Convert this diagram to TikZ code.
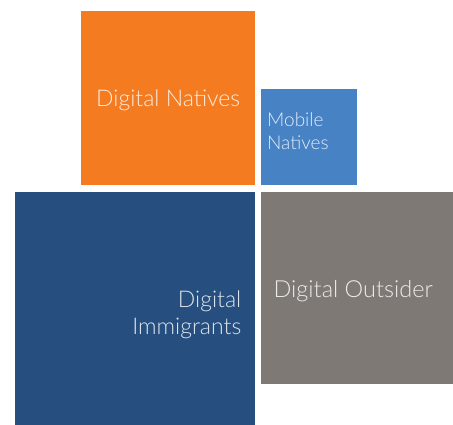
\documentclass[tikz,border=0pt]{standalone}
\usepackage{fontspec}
\setmainfont{Lato Light}
\usetikzlibrary{positioning}

\definecolor{natorange}{HTML}{F47B20}
\definecolor{mobblue}{HTML}{4682C4}
\definecolor{immblue}{HTML}{264F7F}
\definecolor{outgray}{HTML}{7E7975}

\begin{document}
\begin{tikzpicture}[x=1pt, y=-1pt,
  tile/.style={rectangle, inner sep=0pt, anchor=north west},
  caption/.style={text=white, text opacity=0.85, inner sep=0pt, font=\fontsize{23}{26.3}\selectfont}]
\useasboundingbox (0,0) rectangle (453,425);

% the four tiles
\node[tile, fill=natorange, minimum width=174pt, minimum height=174pt] (natives) at (81,11) {};
\node[tile, fill=mobblue, minimum width=96pt, minimum height=96pt] (mobile) at (261,89) {};
\node[tile, fill=immblue, minimum width=240pt, minimum height=233pt] (immigrants) at (15,192) {};
\node[tile, fill=outgray, minimum width=192pt, minimum height=192pt] (outsider) at (261,192) {};

% captions
\node[caption] (nattext) at ([yshift=-2pt]natives.center) {Digital Natives};
\node[caption, anchor=west, align=left, font=\fontsize{19}{22.7}\selectfont]
  (mobtext) at ([xshift=6pt, yshift=6pt]mobile.west) {Mobile\\Natives};
\node[caption, anchor=east, align=right]
  (immtext) at ([xshift=-14pt, yshift=-6pt]immigrants.east) {Digital\\Immigrants};
\node[caption, font=\fontsize{23.5}{26}\selectfont] (outtext) at ([xshift=-4pt, yshift=-3pt]outsider.center) {Digital Outsider};
\end{tikzpicture}
\end{document}
